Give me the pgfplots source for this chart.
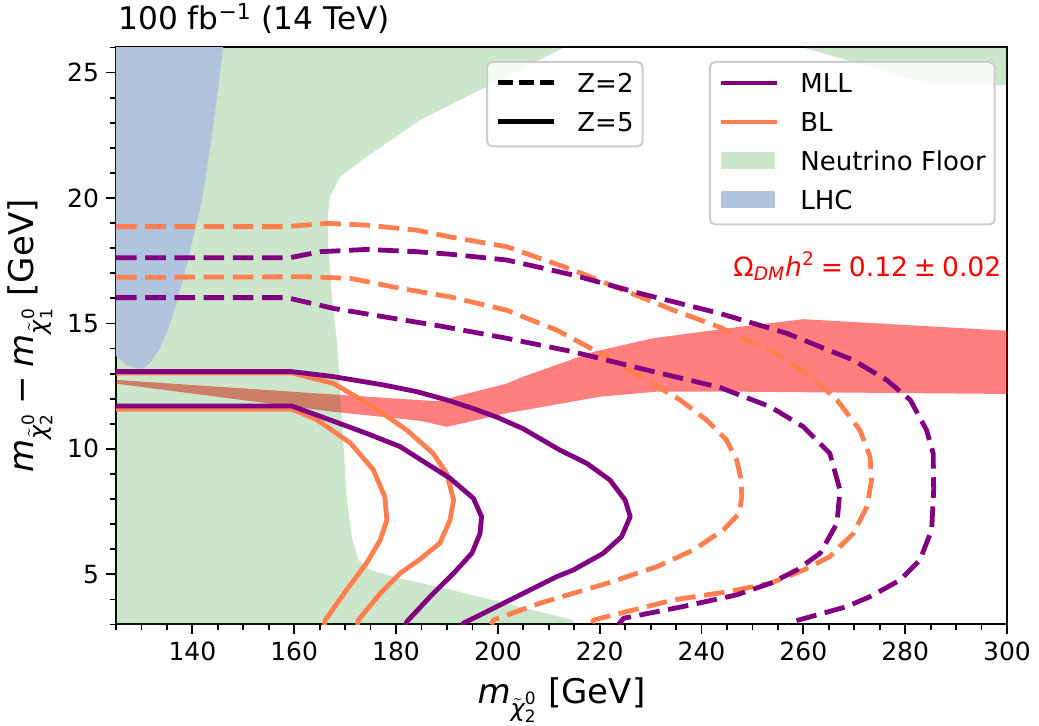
\documentclass[border=0pt]{standalone}
\usepackage{amsmath}
\usepackage{fontspec}
\setmainfont{DejaVu Sans}
\usepackage{pgfplots}
\pgfplotsset{compat=1.18}
\definecolor{mllpurple}{RGB}{128,0,128}
\definecolor{blcoral}{RGB}{255,127,80}
\definecolor{lhcblue}{RGB}{176,196,222}
\definecolor{nfgreen}{RGB}{0,128,0}
\definecolor{nflegend}{RGB}{204,230,204}
\definecolor{legframe}{RGB}{204,204,204}
\newcommand{\mchi}[1]{\textit{m}$_{\tilde{\text{\itshape χ}}^{\text{0}}_{\text{#1}}}$}
\pgfplotsset{
  area legend/.style={legend image code/.code={\fill[##1,draw=none,fill opacity=1,sharp corners] (0pt,0.4pt) rectangle (27pt,9.2pt);}},
  mylegend/.style={
    legend style={draw=legframe, line width=1pt, rounded corners=2.5pt, fill=white, fill opacity=0.8, draw opacity=1, text opacity=1,
      font=\fontsize{13}{15}\selectfont, anchor=north west, inner xsep=4.5pt, inner ysep=5.6pt, row sep=8pt, column sep=10.5pt,
      nodes={inner sep=0pt, text height=9.5pt, text depth=2pt, anchor=base west}},
    legend cell align=left,
    legend image code/.code={\draw[##1, line cap=butt, draw opacity=1, sharp corners] (0pt,4.75pt) -- (28pt,4.75pt);},
  },
}
\begin{document}
\begin{tikzpicture}
\begin{axis}[name=main, at={(0,0)}, anchor=south west, width=445.5pt, height=288.5pt, scale only axis,
 xmin=125, xmax=300, ymin=3, ymax=26,
 xtick={140,160,...,300}, ytick={5,10,15,20,25},
 minor xtick={125,130,...,300}, minor ytick={3,4,...,26},
 tick pos=left, tick align=outside,
 major tick length=5pt, minor tick length=3pt,
 every tick/.append style={black, line width=0.9pt},
 axis line style={line width=1pt},
 tick label style={font=\fontsize{12.5}{15}\selectfont},
 /pgf/number format/assume math mode=true,
 xlabel={\mchi{2} [GeV]},
 ylabel={\mchi{2}\hspace{0.25em}−\hspace{0.25em}\mchi{1} [GeV]},
 label style={font=\fontsize{17}{20}\selectfont},
 xlabel style={at={(axis description cs:0.5,0)}, anchor=base, yshift=-39.75pt},
 ylabel style={at={(axis description cs:-0.0965,0.5)}, anchor=center},
 mylegend, legend style={at={(0.6655,0.9766)}},
]
\addlegendimage{mllpurple, line width=2.2pt}
\addlegendimage{blcoral, line width=2.2pt}
\addlegendimage{area legend, fill=nflegend}
\addlegendimage{area legend, fill=lhcblue}
% relic density band
\addplot[fill=red, fill opacity=0.5, draw=none, forget plot] coordinates {
(125,12.75) (167.7,12.17) (188,11.9) (201.7,12.6) (205,12.88) (218.8,13.87) (230.5,14.41) (247.6,14.87) (260,15.17) (300,14.71) (301,14.7)
(301,12.19) (300,12.19) (247.6,12.28) (231.2,12.28) (220.1,12.08) (201.7,11.42) (190,10.88) (184.7,11.12) (167.7,11.48) (125,12.6)} -- cycle;
% neutrino floor
\addplot[fill=nfgreen, fill opacity=0.2, draw=none, forget plot] coordinates {
(124,26) (213,26) (184.7,23.1) (174.2,21.64) (169,20.85) (167,20.05) (166.6,19.25) (166.6,18.46) (167.4,16.07) (168.4,14.3)
(169.5,10.75) (170.3,8.09) (171.3,6.5) (172.6,5.57) (174.9,5.17) (180.8,4.84) (190,4.42) (214.8,3.18) (215.6,2.5) (124,2.5)} -- cycle;
\addplot[fill=nfgreen, fill opacity=0.2, draw=none, forget plot] coordinates {
(259.9,26) (285.5,24.5) (301,24.5) (301,26.5) (259,26.5)} -- cycle;
% LHC
\addplot[fill=lhcblue, draw=none, forget plot] coordinates {
(124,26.5) (146.3,26.5) (145,24.2) (143.5,22) (142,20) (140.5,18.7) (139,17.4) (137,15.9) (135.5,14.9) (133.6,14.0) (132,13.5)
(130.5,13.2) (129,13.2) (127,13.35) (125,13.7) (124,13.8)} -- cycle;
% BL Z=5
\addplot[blcoral, line width=2.4pt, line join=round, forget plot] coordinates {
(125,11.58) (159.5,11.58) (164.4,11.17) (171.0,10.24) (175.5,9.18) (177.8,8.09) (178.2,7.16) (176.9,6.37) (174.2,5.44) (170.3,4.38) (166.1,3.18) (165.9,2.9)};
\addplot[blcoral, line width=2.4pt, line join=round, forget plot] coordinates {
(125,13.03) (159.5,13.03) (167.7,12.61) (175.5,11.68) (182.1,10.75) (187.3,9.82) (190.0,9.0) (191.3,7.96) (190.6,7.16) (188.6,6.24) (184.7,5.6) (180.8,5.04) (176.9,4.24) (172.6,3.18) (172.4,2.9)};
% BL Z=2
\addplot[blcoral, line width=2.4pt, line join=round, line cap=butt, dash pattern=on 10.3pt off 4.3pt, forget plot] coordinates {
(125,16.84) (162.4,16.86) (171.0,16.80) (180.8,16.40) (190.6,16.06) (201.7,15.53) (211.5,14.74) (221.4,13.67) (229.2,12.74) (235.8,11.95) (241.0,11.15) (244.9,10.35) (246.9,9.56) (247.8,8.76) (247.9,8.1) (247.4,7.43) (244.3,6.77) (238.4,5.97) (231.2,5.30) (221.4,4.64) (208.3,3.85) (199.1,3.18) (198.7,3.0)};
\addplot[blcoral, line width=2.4pt, line join=round, line cap=butt, dash pattern=on 10.3pt off 4.3pt, forget plot] coordinates {
(125,18.86) (158.5,18.86) (166.4,18.99) (174.2,18.92) (184.0,18.72) (190.6,18.45) (201.7,18.06) (214.8,17.13) (224.6,16.33) (234.5,15.53) (243.6,14.85) (248,14.4) (253.5,13.94) (258,13.35) (262.3,12.74) (266.6,11.95) (271.1,10.75) (273.1,9.69) (273.4,8.76) (272.5,7.70) (269.8,6.63) (265.2,5.70) (260.0,5.17) (253.5,4.64) (245,4.3) (234.5,3.98) (218.8,3.18) (218.4,3.0)};
% MLL Z=5
\addplot[mllpurple, line width=2.4pt, line join=round, forget plot] coordinates {
(125,11.71) (159.5,11.71) (164.4,11.35) (174.2,10.62) (180.8,10.09) (186.0,9.42) (190.6,8.83) (195.2,8.03) (196.8,7.30) (196.5,6.63) (194.9,5.84) (191.3,5.04) (186.7,4.11) (182.1,3.11) (181.9,2.9)};
\addplot[mllpurple, line width=2.4pt, line join=round, forget plot] coordinates {
(125,13.08) (159.5,13.08) (167.7,12.88) (177.5,12.55) (184.1,12.28) (190,11.95) (195,11.62) (200,11.25) (205,10.8) (212.2,9.95) (217.5,9.42) (222,8.76) (225,7.96) (226,7.3) (224.3,6.5) (220.7,5.84) (214.8,5.17) (211.6,4.91) (205,4.24) (198.5,3.58) (193.2,3.05) (192.9,2.9)};
% MLL Z=2
\addplot[mllpurple, line width=2.4pt, line join=round, line cap=butt, dash pattern=on 10.3pt off 4.3pt, forget plot] coordinates {
(125,16.03) (158.5,16.03) (167.7,15.60) (177.5,15.27) (188.6,14.90) (201.7,14.41) (214.8,13.87) (227.9,13.21) (243.6,12.45) (253.5,11.68) (260.0,10.88) (265.2,9.82) (267.2,8.36) (266.6,7.03) (263.3,5.84) (258.7,5.17) (253.5,4.64) (246.9,4.18) (236,3.7) (224.7,3.25) (223.7,3.0)};
\addplot[mllpurple, line width=2.4pt, line join=round, line cap=butt, dash pattern=on 10.3pt off 4.3pt, forget plot] coordinates {
(125,17.62) (159.2,17.62) (165.1,17.86) (174.2,17.95) (184.0,17.86) (190.6,17.76) (201.7,17.53) (214.8,16.93) (227.9,16.20) (243.6,15.40) (256.7,14.61) (269.8,13.54) (276.4,12.74) (281.0,11.95) (284.2,10.75) (285.5,9.82) (285.6,8.36) (285.2,6.77) (282.9,5.57) (279.0,4.77) (273.1,4.11) (268.5,3.71) (257.7,3.1) (257.3,2.95)};
\node[anchor=base west, inner sep=0pt, text=red, font=\fontsize{13.3}{16}\selectfont] at (axis cs:246.2,16.89)
  {Ω\textsubscript{\itshape DM}\textit{h}\textsuperscript{2}\hspace{0.22em}=\hspace{0.22em}0.12\hspace{0.22em}±\hspace{0.22em}0.02};
\legend{MLL, BL, Neutrino Floor, LHC}
\end{axis}
\begin{axis}[at={(0,0)}, anchor=south west, width=445.5pt, height=288.5pt, scale only axis,
 xmin=125, xmax=300, ymin=3, ymax=26, hide axis,
 mylegend, legend style={at={(0.4153,0.9766)}}]
\addlegendimage{black, line width=2.2pt, dash pattern=on 7.5pt off 3pt}
\addlegendimage{black, line width=2.2pt}
\addplot[draw=none, mark=none, forget plot] coordinates {(150,10)};
\legend{Z=2, Z=5}
\end{axis}
\node[anchor=base west, inner sep=0pt, font=\fontsize{15.6}{18}\selectfont] at ([xshift=1pt,yshift=8.75pt]main.north west) {100 fb\textsuperscript{−1} (14 TeV)};
\pgfresetboundingbox
\path[use as bounding box] (-58pt,-50.75pt) rectangle (461.5pt,312.25pt);
\end{tikzpicture}
\end{document}
